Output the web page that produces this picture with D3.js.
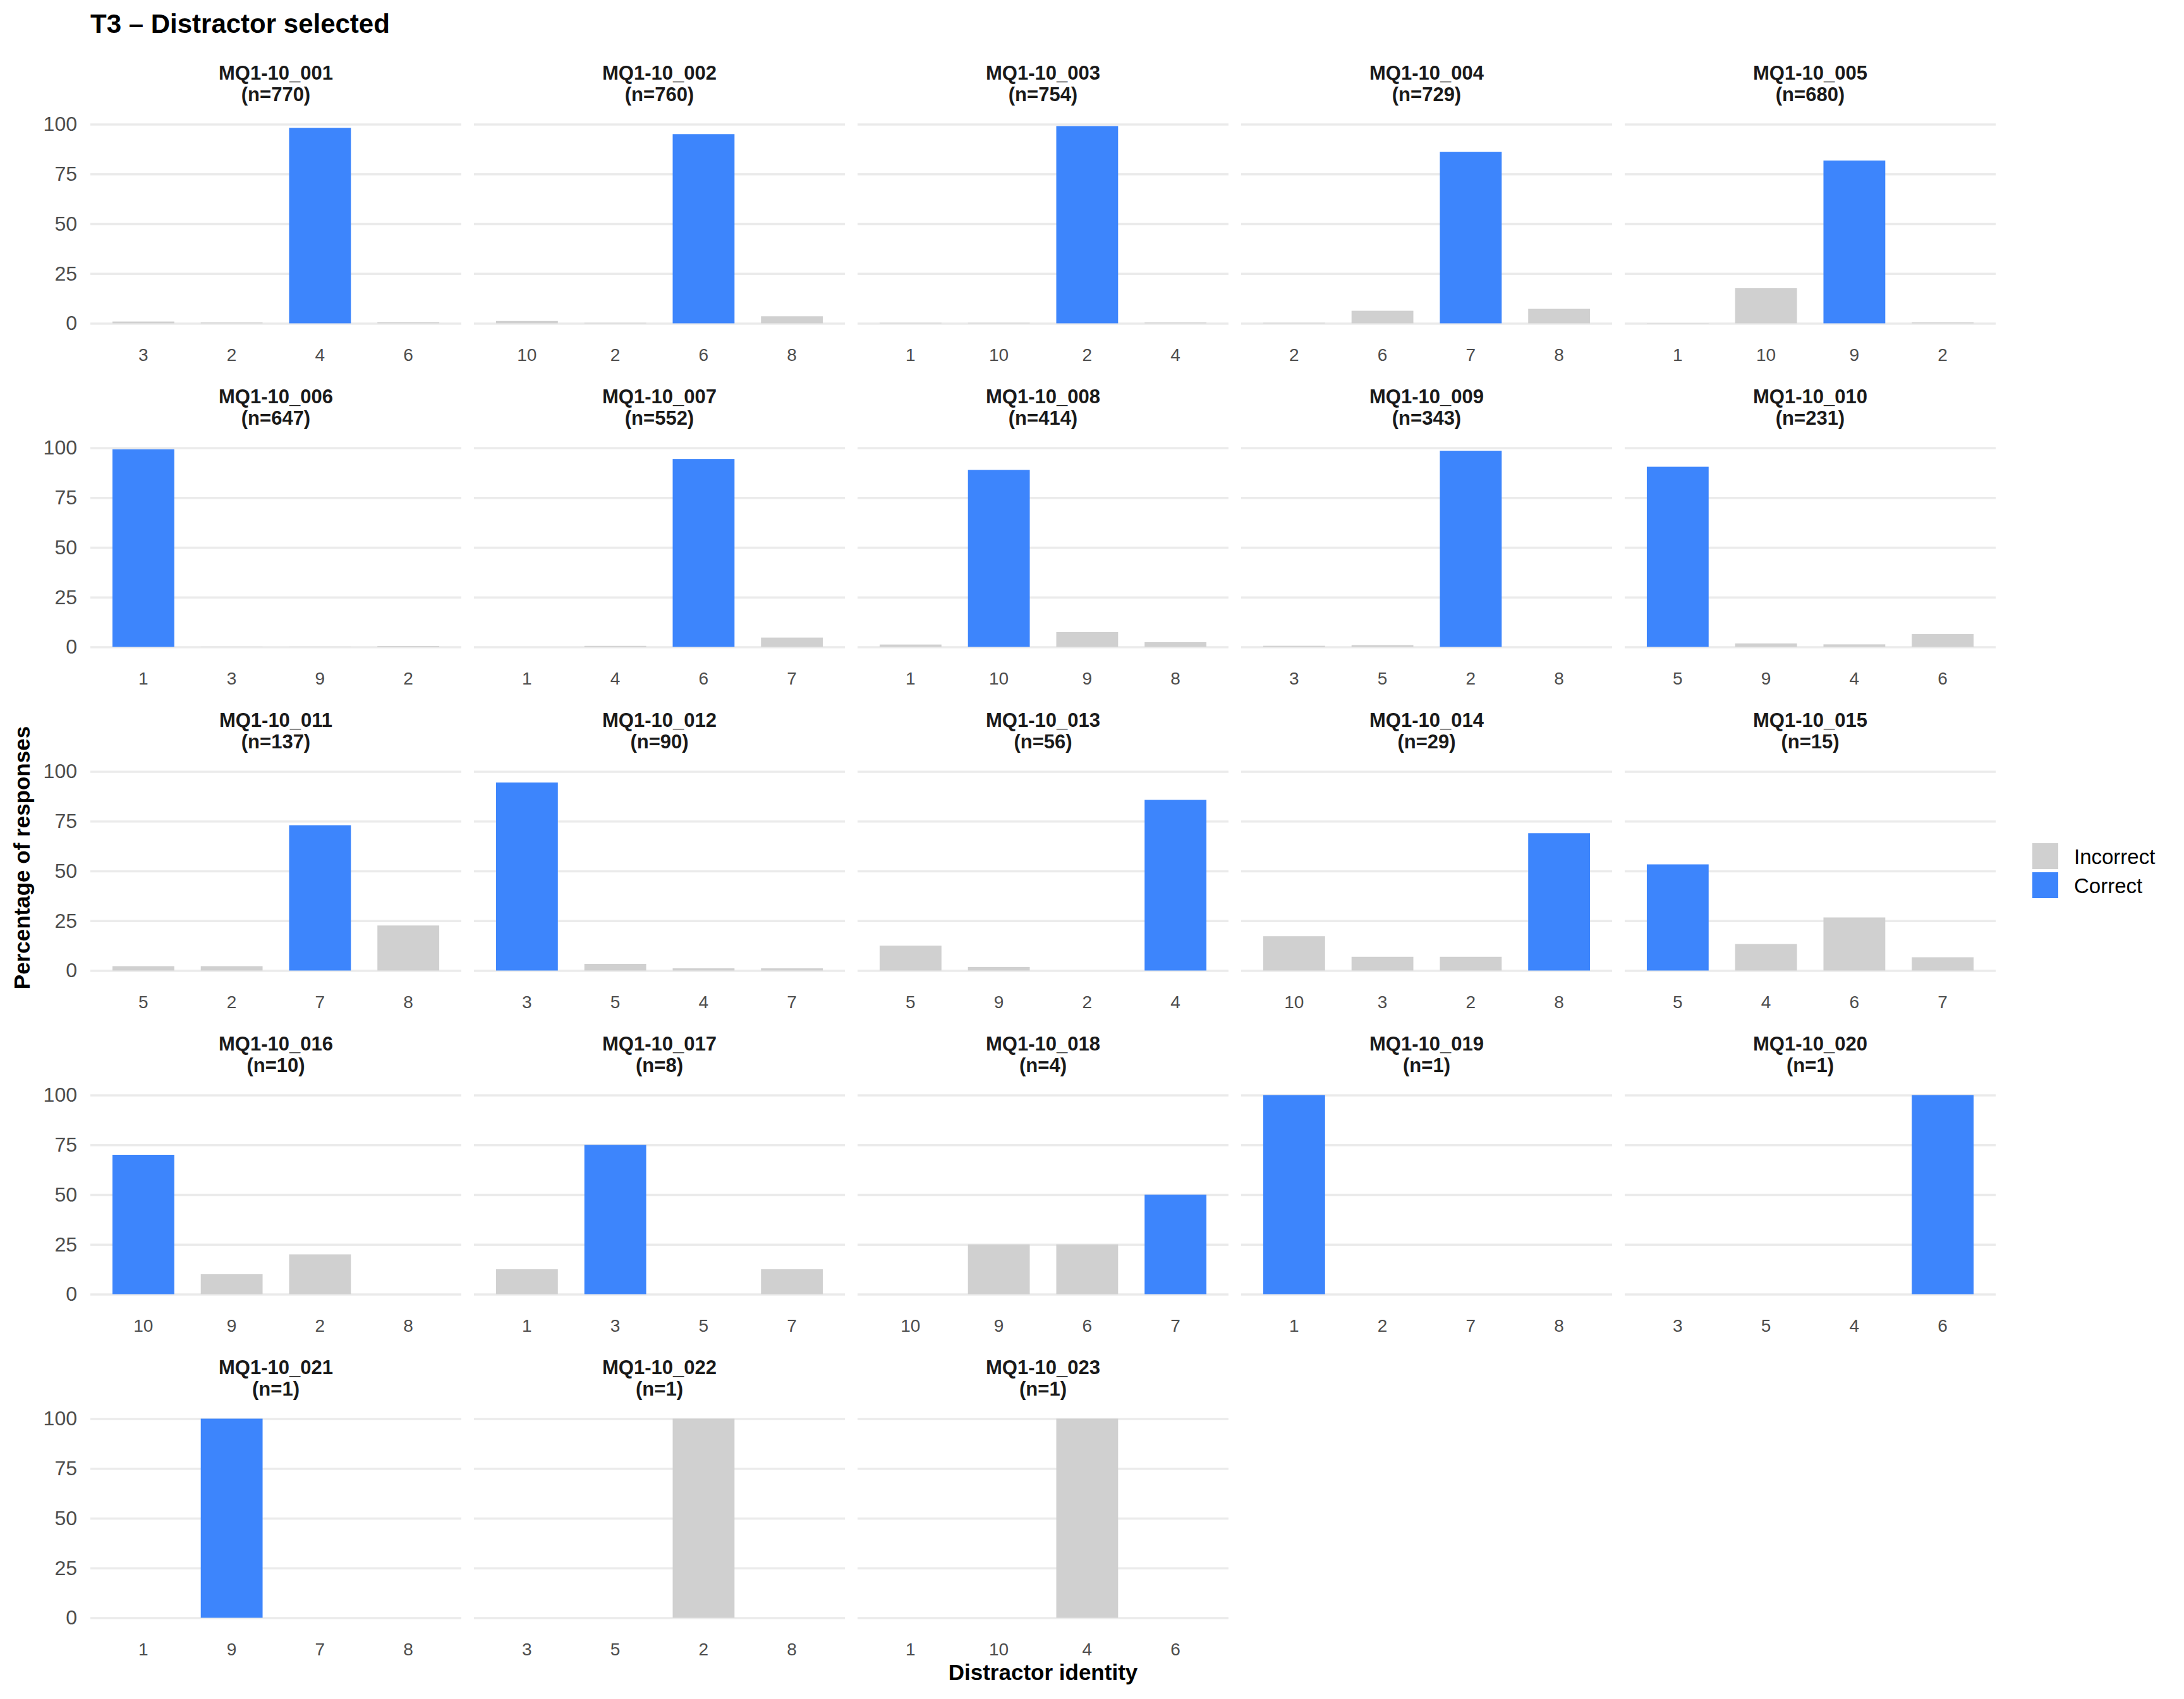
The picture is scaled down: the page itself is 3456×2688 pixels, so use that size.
<!DOCTYPE html>
<html>
<head>
<meta charset="utf-8">
<script src="https://cdn.jsdelivr.net/npm/d3@7"></script>
<style>
  html, body { margin: 0; padding: 0; background: #ffffff; }
  svg { display: block; }
  text { font-family: "Liberation Sans", Arial, Helvetica, sans-serif; }
</style>
</head>
<body>
<script>
// ---------------- DATA ----------------
const chartTitle = "T3 \u2013 Distractor selected";
const xTitle = "Distractor identity";
const yTitle = "Percentage of responses";

const items = ["MQ1-10_001","MQ1-10_002","MQ1-10_003","MQ1-10_004","MQ1-10_005",
               "MQ1-10_006","MQ1-10_007","MQ1-10_008","MQ1-10_009","MQ1-10_010",
               "MQ1-10_011","MQ1-10_012","MQ1-10_013","MQ1-10_014","MQ1-10_015",
               "MQ1-10_016","MQ1-10_017","MQ1-10_018","MQ1-10_019","MQ1-10_020",
               "MQ1-10_021","MQ1-10_022","MQ1-10_023"];
const nResponses = [770,760,754,729,680, 647,552,414,343,231, 137,90,56,29,15, 10,8,4,1,1, 1,1,1];

const distractors = [
  ["3","2","4","6"], ["10","2","6","8"], ["1","10","2","4"], ["2","6","7","8"], ["1","10","9","2"],
  ["1","3","9","2"], ["1","4","6","7"], ["1","10","9","8"], ["3","5","2","8"], ["5","9","4","6"],
  ["5","2","7","8"], ["3","5","4","7"], ["5","9","2","4"], ["10","3","2","8"], ["5","4","6","7"],
  ["10","9","2","8"], ["1","3","5","7"], ["10","9","6","7"], ["1","2","7","8"], ["3","5","4","6"],
  ["1","9","7","8"], ["3","5","2","8"], ["1","10","4","6"]
];

const percents = [
  [0.91, 0.39, 98.18, 0.52], [1.18, 0.26, 95.0, 3.55], [0.27, 0.27, 99.07, 0.40], [0.27, 6.31, 86.15, 7.27], [0.15, 17.65, 81.76, 0.44],
  [99.23, 0.15, 0.15, 0.46], [0, 0.54, 94.4, 4.71], [1.21, 88.89, 7.49, 2.42], [0.58, 0.87, 98.54, 0], [90.48, 1.73, 1.30, 6.49],
  [2.19, 2.19, 72.99, 22.63], [94.44, 3.33, 1.11, 1.11], [12.5, 1.79, 0, 85.71], [17.24, 6.90, 6.90, 68.97], [53.33, 13.33, 26.67, 6.67],
  [70, 10, 20, 0], [12.5, 75, 0, 12.5], [0, 25, 25, 50], [100, 0, 0, 0], [0, 0, 0, 100],
  [0, 100, 0, 0], [0, 0, 100, 0], [0, 0, 100, 0]
];

const correctDistractor = ["4","6","2","7","9", "1","6","10","2","5", "7","3","4","8","5", "10","3","7","1","6", "9", null, null];

const yTicks = [0, 25, 50, 75, 100];
const legendLabels = ["Incorrect", "Correct"];
const legendColors = ["#D0D0D0", "#3D85FC"];

// ---------------- LAYOUT ----------------
const W = 3456, H = 2688;
const nCols = 5;
const panelLeft0 = 143, panelW = 587, colStep = 607;
const zeroY0 = 511.5, rowStep = 512, unit100 = 315;

const svg = d3.select("body").append("svg")
  .attr("width", W).attr("height", H)
  .attr("viewBox", `0 0 ${W} ${H}`);
svg.append("rect").attr("width", W).attr("height", H).attr("fill", "#ffffff");

const color = d3.scaleOrdinal().domain(legendLabels).range(legendColors);

items.forEach((item, i) => {
  const r = Math.floor(i / nCols), c = i % nCols;
  const left = panelLeft0 + c * colStep;
  const y0 = zeroY0 + r * rowStep;

  const x = d3.scaleBand().domain(distractors[i]).range([0, panelW])
    .paddingInner(0.3).paddingOuter(0.25);
  const y = d3.scaleLinear().domain([0, 100]).range([0, -unit100]);

  const g = svg.append("g").attr("transform", `translate(${left},${y0})`);

  // gridlines
  const grid = g.append("g").call(d3.axisLeft(y).tickValues(yTicks).tickSize(-panelW).tickFormat(""));
  grid.select(".domain").remove();
  grid.selectAll(".tick line").attr("stroke", "#EBEBEB").attr("stroke-width", 3.3);

  // bars
  const data = distractors[i].map((d, k) => ({ d, v: percents[i][k], correct: d === correctDistractor[i] }));
  g.selectAll("rect.bar").data(data).enter().append("rect")
    .attr("class", "bar")
    .attr("x", d => x(d.d))
    .attr("width", x.bandwidth())
    .attr("y", d => y(d.v))
    .attr("height", d => y(0) - y(d.v))
    .attr("fill", d => color(d.correct ? "Correct" : "Incorrect"));

  // x axis
  const xa = g.append("g").call(d3.axisBottom(x).tickSize(0).tickPadding(39.6));
  xa.select(".domain").remove();
  xa.selectAll("text").attr("font-size", 28).attr("fill", "#4D4D4D")
    .attr("font-family", "'Liberation Sans', Arial, sans-serif");

  // y axis (left column only)
  if (c === 0) {
    const ya = g.append("g").call(d3.axisLeft(y).tickValues(yTicks).tickSize(0).tickPadding(21));
    ya.select(".domain").remove();
    ya.selectAll("text").attr("font-size", 32).attr("fill", "#4D4D4D")
      .attr("font-family", "'Liberation Sans', Arial, sans-serif");
  }

  // strip
  const strip = g.append("text").attr("text-anchor", "middle")
    .attr("font-size", 31).attr("font-weight", "bold").attr("fill", "#1A1A1A");
  strip.append("tspan").attr("x", panelW / 2).attr("y", -385.5).text(item);
  strip.append("tspan").attr("x", panelW / 2).attr("y", -351.5).text(`(n=${nResponses[i]})`);
});

// title
svg.append("text").attr("x", 143).attr("y", 52)
  .attr("font-size", 42).attr("font-weight", "bold").attr("fill", "#000")
  .text(chartTitle);

// axis titles
const plotRight = panelLeft0 + (nCols - 1) * colStep + panelW;
svg.append("text").attr("x", (panelLeft0 + plotRight) / 2).attr("y", 2658)
  .attr("text-anchor", "middle").attr("font-size", 35).attr("font-weight", "bold").attr("fill", "#000")
  .text(xTitle);
svg.append("text").attr("transform", "translate(47,1357) rotate(-90)")
  .attr("text-anchor", "middle").attr("font-size", 35).attr("font-weight", "bold").attr("fill", "#000")
  .text(yTitle);

// legend
const lg = svg.append("g").attr("transform", "translate(3216,1334)");
legendLabels.forEach((lab, k) => {
  lg.append("rect").attr("x", 0).attr("y", k * 46).attr("width", 41).attr("height", 41)
    .attr("fill", color(lab));
  lg.append("text").attr("x", 66).attr("y", k * 46 + 20.5 + 12)
    .attr("font-size", 33).attr("fill", "#000").text(lab);
});
</script>
</body>
</html>
